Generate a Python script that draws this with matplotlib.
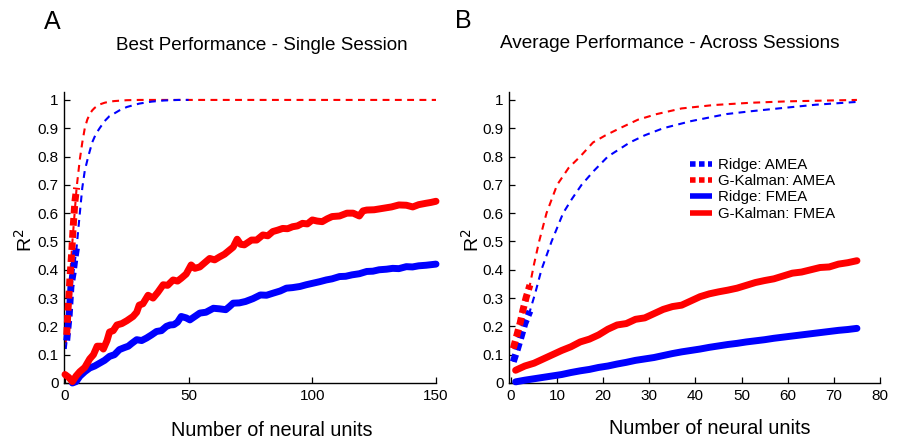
import matplotlib
matplotlib.use("Agg")
import matplotlib.pyplot as plt
from matplotlib.lines import Line2D

plt.rcParams['font.family'] = ['Liberation Sans', 'DejaVu Sans']

RED = '#ff0000'
BLUE = '#0000ff'

# ---------------- Panel A data ----------------
a_red_fmea_x = [0, 1.5, 3, 4.5, 6, 8, 10, 11.5, 13, 14.5, 15.5, 17, 18, 19.5, 21, 23, 25, 27.5, 29, 30,
                31.5, 33.6, 35.6, 37.5, 39.7, 41.5, 43.7, 45.5, 47, 49, 51, 52.5, 54.5, 56.5, 58.5, 60.5,
                62.6, 64.5, 66.6, 68, 69.6, 71, 72.5, 75.4, 77.5, 80, 82, 84, 86, 88, 90, 92, 94, 96, 98,
                100, 102, 104, 106, 108, 111, 114, 116.5, 119, 120.5, 122, 125, 128.5, 132, 135, 138,
                140.6, 143, 146, 148, 150]
a_red_fmea_y = [0.03, 0.02, 0.005, 0.025, 0.04, 0.055, 0.085, 0.10, 0.13, 0.13, 0.12, 0.15, 0.18, 0.185,
                0.205, 0.21, 0.22, 0.235, 0.25, 0.275, 0.28, 0.31, 0.30, 0.32, 0.347, 0.345, 0.364, 0.36,
                0.37, 0.385, 0.417, 0.405, 0.41, 0.425, 0.44, 0.435, 0.446, 0.455, 0.47, 0.48, 0.508,
                0.49, 0.488, 0.505, 0.505, 0.523, 0.52, 0.535, 0.54, 0.546, 0.545, 0.552, 0.555, 0.564,
                0.562, 0.576, 0.572, 0.57, 0.58, 0.588, 0.59, 0.60, 0.60, 0.59, 0.608, 0.611, 0.612,
                0.617, 0.622, 0.629, 0.628, 0.622, 0.63, 0.635, 0.638, 0.642]

a_blue_fmea_x = [3, 4.5, 6, 8, 10, 12, 14, 16, 18, 20, 22, 24, 25.6, 27, 29, 31, 33, 35, 37, 39, 41, 42.5,
                 44, 45.5, 47, 49, 50.5, 52.5, 54.5, 57, 60, 62.5, 65, 66.5, 68, 70.5, 73, 76, 79, 81.5,
                 84, 87, 89.5, 92, 95, 97.5, 100, 103, 105.6, 108, 111, 113.5, 116, 119, 122, 124.5, 127,
                 130, 132.5, 135, 138, 140.5, 143, 146, 148, 150]
a_blue_fmea_y = [0.0, 0.005, 0.024, 0.04, 0.053, 0.06, 0.07, 0.08, 0.094, 0.10, 0.118, 0.125, 0.13, 0.14,
                 0.153, 0.15, 0.159, 0.17, 0.182, 0.185, 0.20, 0.205, 0.206, 0.215, 0.235, 0.23, 0.223,
                 0.235, 0.247, 0.25, 0.264, 0.262, 0.259, 0.27, 0.282, 0.283, 0.288, 0.298, 0.311, 0.31,
                 0.317, 0.325, 0.335, 0.337, 0.341, 0.347, 0.352, 0.358, 0.364, 0.368, 0.376, 0.377,
                 0.382, 0.386, 0.394, 0.395, 0.40, 0.402, 0.405, 0.404, 0.411, 0.41, 0.414, 0.416,
                 0.418, 0.42]

# AMEA measured (thick dotted)
a_red_amea_x = [0.7, 1.3, 2.0, 2.7, 3.3, 4.0, 4.7]
a_red_amea_y = [0.17, 0.27, 0.37, 0.46, 0.55, 0.64, 0.69]
a_blue_amea_x = [0.7, 1.7, 2.4, 3.3, 4.0, 4.7]
a_blue_amea_y = [0.15, 0.24, 0.34, 0.39, 0.44, 0.48]
# AMEA extrapolated (thin dashed)
a_red_ext_x = [0.3, 1.5, 3, 4.7, 6, 7, 8, 9, 10, 11, 12, 14, 16, 18, 20, 25, 30, 40, 50, 150]
a_red_ext_y = [0.14, 0.30, 0.50, 0.69, 0.79, 0.85, 0.90, 0.93, 0.95, 0.963, 0.972, 0.984, 0.99, 0.994,
               0.996, 0.999, 1.0, 1.0, 1.0, 1.0]
a_blue_ext_x = [0.3, 1.5, 3, 4.7, 6, 7, 8, 9.4, 11, 12.5, 14, 16, 18, 19.5, 22, 25, 30, 35, 40, 46, 50]
a_blue_ext_y = [0.12, 0.22, 0.36, 0.48, 0.60, 0.69, 0.75, 0.80, 0.85, 0.88, 0.90, 0.925, 0.943, 0.95,
                0.963, 0.975, 0.987, 0.994, 0.998, 1.0, 1.0]

# ---------------- Panel B data ----------------
b_fmea_x = [1, 3, 5, 7, 9, 11, 13, 15, 17, 19, 21, 23, 25, 27, 29, 31, 33, 35, 37, 39, 41, 43, 45, 47,
            49, 51, 53, 55, 57, 59, 61, 63, 65, 67, 69, 71, 73, 75]
b_red_fmea_y = [0.045, 0.06, 0.07, 0.085, 0.10, 0.115, 0.128, 0.145, 0.155, 0.17, 0.19, 0.205, 0.21,
                0.225, 0.23, 0.245, 0.26, 0.27, 0.275, 0.29, 0.305, 0.315, 0.322, 0.328, 0.335, 0.345,
                0.355, 0.362, 0.368, 0.378, 0.388, 0.392, 0.40, 0.408, 0.41, 0.42, 0.425, 0.432]
b_blue_fmea_y = [0.004, 0.01, 0.015, 0.02, 0.025, 0.03, 0.037, 0.043, 0.048, 0.055, 0.06, 0.067, 0.073,
                 0.08, 0.085, 0.09, 0.097, 0.104, 0.11, 0.115, 0.12, 0.126, 0.131, 0.136, 0.14, 0.145,
                 0.149, 0.153, 0.158, 0.162, 0.166, 0.17, 0.174, 0.178, 0.182, 0.186, 0.189, 0.193]

b_red_amea_x = [0.5, 1.2, 2.0, 2.6, 3.3, 4.1]
b_red_amea_y = [0.122, 0.164, 0.213, 0.258, 0.303, 0.346]
b_blue_amea_x = [0.5, 1.4, 2.2, 3.0, 4.1]
b_blue_amea_y = [0.075, 0.12, 0.164, 0.21, 0.254]

b_red_ext_x = [0.5, 2, 4.1, 5, 6.1, 7.7, 10, 12.5, 15, 17.8, 20.5, 23.6, 27.5, 31.6, 37, 44, 52, 60, 75]
b_red_ext_y = [0.12, 0.21, 0.346, 0.42, 0.50, 0.60, 0.70, 0.76, 0.80, 0.85, 0.875, 0.90, 0.93, 0.95,
               0.97, 0.982, 0.99, 0.995, 1.0]
b_blue_ext_x = [0.5, 2.2, 4.1, 5.3, 6.6, 8.8, 11.3, 13.2, 15.3, 18, 21, 25.8, 29, 33, 39, 46.7, 52, 58,
                66, 75]
b_blue_ext_y = [0.075, 0.164, 0.254, 0.32, 0.40, 0.50, 0.60, 0.65, 0.70, 0.75, 0.80, 0.85, 0.875, 0.90,
                0.925, 0.95, 0.96, 0.97, 0.983, 0.993]

legend_labels = ['Ridge: AMEA', 'G-Kalman: AMEA', 'Ridge: FMEA', 'G-Kalman: FMEA']
legend_colors = [BLUE, RED, BLUE, RED]
legend_dotted = [True, True, False, False]

W, H = 899, 442
fig = plt.figure(figsize=(W / 100, H / 100), dpi=100)

DOT = (1.1, 0.65)
DASH = (3.3, 2.6)


def style_axes(ax):
    for s in ['top', 'right']:
        ax.spines[s].set_visible(False)
    for s in ['left', 'bottom']:
        ax.spines[s].set_linewidth(1.0)
    ax.tick_params(direction='in', length=4, width=0.9, labelsize=11, pad=4, colors='black')
    ax.set_ylim(0, 1.028)
    ax.set_yticks([0, 0.1, 0.2, 0.3, 0.4, 0.5, 0.6, 0.7, 0.8, 0.9, 1])
    ax.set_yticklabels(['0', '0.1', '0.2', '0.3', '0.4', '0.5', '0.6', '0.7', '0.8', '0.9', '1'])


def draw(ax, rf_x, rf_y, bf_x, bf_y, ra_x, ra_y, ba_x, ba_y, re_x, re_y, be_x, be_y):
    ax.plot(re_x, re_y, color=RED, lw=1.5, dashes=DASH, clip_on=False, zorder=2)
    ax.plot(be_x, be_y, color=BLUE, lw=1.5, dashes=DASH, clip_on=False, zorder=2)
    ax.plot(ba_x, ba_y, color=BLUE, lw=5, dashes=DOT, dash_capstyle='butt', clip_on=False, zorder=3)
    ax.plot(ra_x, ra_y, color=RED, lw=5, dashes=DOT, dash_capstyle='butt', clip_on=False, zorder=3)
    ax.plot(bf_x, bf_y, color=BLUE, lw=5, solid_capstyle='round', solid_joinstyle='round',
            clip_on=False, zorder=3)
    ax.plot(rf_x, rf_y, color=RED, lw=5, solid_capstyle='round', solid_joinstyle='round',
            clip_on=False, zorder=3)


# Panel A
axA = fig.add_axes([64 / W, 59 / H, 372 / W, 291 / H])
style_axes(axA)
axA.set_xlim(-0.4, 150)
axA.set_xticks([0, 50, 100, 150])
draw(axA, a_red_fmea_x, a_red_fmea_y, a_blue_fmea_x, a_blue_fmea_y,
     a_red_amea_x, a_red_amea_y, a_blue_amea_x, a_blue_amea_y,
     a_red_ext_x, a_red_ext_y, a_blue_ext_x, a_blue_ext_y)

# Panel B
axB = fig.add_axes([509 / W, 59 / H, 371 / W, 291 / H])
style_axes(axB)
axB.set_xlim(-0.43, 80)
axB.set_xticks([0, 10, 20, 30, 40, 50, 60, 70, 80])
draw(axB, b_fmea_x, b_red_fmea_y, b_fmea_x, b_blue_fmea_y,
     b_red_amea_x, b_red_amea_y, b_blue_amea_x, b_blue_amea_y,
     b_red_ext_x, b_red_ext_y, b_blue_ext_x, b_blue_ext_y)

handles = []
for c, dotted in zip(legend_colors, legend_dotted):
    if dotted:
        handles.append(Line2D([], [], color=c, lw=4, dashes=(1.0, 0.62), dash_capstyle='butt'))
    else:
        handles.append(Line2D([], [], color=c, lw=4, solid_capstyle='butt'))
axB.legend(handles, legend_labels, loc='upper left',
           bbox_to_anchor=((690 - 509) / 371, (442 - 158 - 59) / 291),
           frameon=False, fontsize=10.8, handlelength=1.45, handletextpad=0.45, labelspacing=0.15,
           borderpad=0, borderaxespad=0)

# Texts
fig.text(262 / W, 1 - 46 / H, 'Best Performance - Single Session', ha='center', va='center', fontsize=13.6)
fig.text(670 / W, 1 - 44 / H, 'Average Performance - Across Sessions', ha='center', va='center', fontsize=13.7)
fig.text(52 / W, 1 - 22 / H, 'A', ha='center', va='center', fontsize=18)
fig.text(463 / W, 1 - 21 / H, 'B', ha='center', va='center', fontsize=18)
fig.text(272 / W, 1 - 431 / H, 'Number of neural units', ha='center', va='center', fontsize=14.3)
fig.text(710 / W, 1 - 429 / H, 'Number of neural units', ha='center', va='center', fontsize=14.3)
fig.text(25 / W, 1 - 240 / H, r'R$^2$', ha='center', va='center', rotation=90, fontsize=14)
fig.text(472 / W, 1 - 240 / H, r'R$^2$', ha='center', va='center', rotation=90, fontsize=14)

fig.savefig('out.png', dpi=100)
